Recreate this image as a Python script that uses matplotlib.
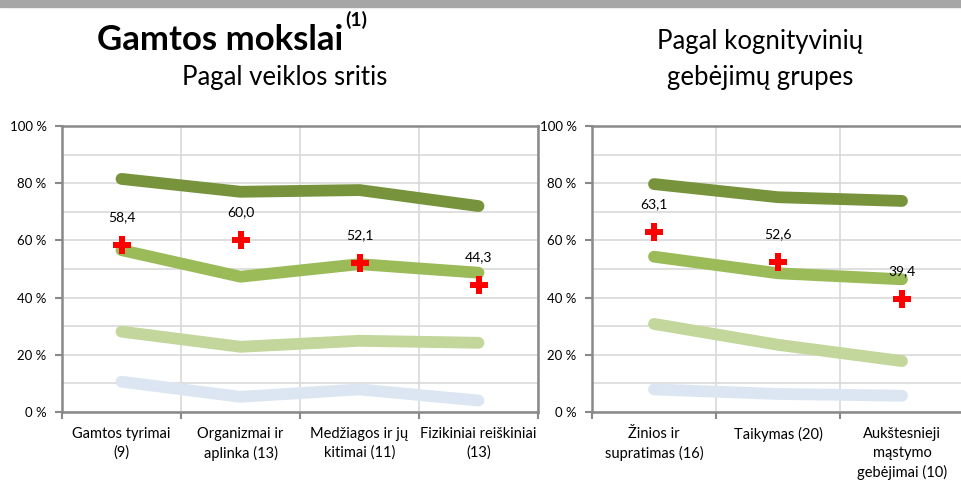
import matplotlib
matplotlib.use("Agg")
import matplotlib.pyplot as plt
from matplotlib.ticker import MultipleLocator, FixedLocator, NullFormatter, FixedFormatter
from matplotlib.patches import Ellipse, Rectangle

plt.rcParams['font.family'] = ['Lato', 'DejaVu Sans']

# left panel: by domain
domains = ["Gamtos tyrimai\n(9)", "Organizmai ir\naplinka (13)",
           "Medžiagos ir jų\nkitimai (11)", "Fizikiniai reiškiniai\n(13)"]
dom_high = [81.5, 77.0, 77.6, 72.0]
dom_mid = [56.6, 47.3, 51.7, 48.7]
dom_low = [28.1, 22.8, 24.9, 24.2]
dom_min = [10.6, 5.3, 7.9, 4.0]
dom_school = [58.4, 60.0, 52.1, 44.3]

# right panel: by cognitive group
groups = ["Žinios ir\nsupratimas (16)", "Taikymas (20)",
          "Aukštesnieji\nmąstymo\ngebėjimai (10)"]
grp_high = [79.7, 75.1, 73.8]
grp_mid = [54.3, 48.5, 46.4]
grp_low = [30.8, 23.5, 17.8]
grp_min = [7.9, 6.3, 5.7]
grp_school = [63.1, 52.6, 39.4]

line_colors = ["#77933c", "#9bbb59", "#c3d69b", "#dce6f2"]
spine_gray = "#898989"
grid_gray = "#d9d9d9"


def draw_panel(ax, labels, series, school):
    n = len(labels)
    xs = list(range(n))
    for vals, col in zip(series, line_colors):
        ax.plot(xs, vals, color=col, lw=8.5, solid_capstyle='round',
                solid_joinstyle='round', zorder=3)
    ax.plot(xs, school, ls='none', marker='P', ms=13, color='#ff0000',
            markeredgewidth=0, zorder=4)
    for x, v in zip(xs, school):
        ax.annotate(f"{v:.1f}".replace('.', ','), (x, v), xytext=(0, 20),
                    textcoords='offset points', ha='center', va='center',
                    fontsize=10, zorder=5)
    ax.set_xlim(-0.5, n - 0.5)
    ax.set_ylim(0, 100)
    ax.yaxis.set_major_locator(MultipleLocator(20))
    ax.yaxis.set_minor_locator(MultipleLocator(10))
    ax.set_yticklabels([f"{int(t)} %" for t in ax.get_yticks()])
    ax.xaxis.set_major_locator(FixedLocator([i - 0.5 for i in range(n + 1)]))
    ax.xaxis.set_major_formatter(NullFormatter())
    ax.xaxis.set_minor_locator(FixedLocator(xs))
    ax.xaxis.set_minor_formatter(FixedFormatter(labels))
    ax.tick_params(axis='x', which='major', length=5, width=1.5, color=spine_gray)
    ax.tick_params(axis='x', which='minor', length=0, pad=11, labelsize=10.5)
    ax.tick_params(axis='y', which='major', length=5, width=1.5, color=spine_gray,
                   labelsize=9.5, pad=6)
    ax.tick_params(axis='y', which='minor', length=0)
    ax.grid(True, which='both', axis='y', color=grid_gray, lw=1.2, zorder=0)
    ax.grid(True, which='major', axis='x', color=grid_gray, lw=1.2, zorder=0)
    for s in ax.spines.values():
        s.set_color(spine_gray)
        s.set_linewidth(1.8)
    ax.set_axisbelow(True)
    ax.patch.set_alpha(0)


fig = plt.figure(figsize=(9.61, 4.83), dpi=100)

ax1 = fig.add_axes([62 / 961, 1 - 412 / 483, 476 / 961, 286 / 483])
draw_panel(ax1, domains, [dom_high, dom_mid, dom_low, dom_min], dom_school)

ax2 = fig.add_axes([592 / 961, 1 - 412 / 483, 372 / 961, 286 / 483])
draw_panel(ax2, groups, [grp_high, grp_mid, grp_low, grp_min], grp_school)

# gray header strip and partial circle at the right edge
fig.patches.append(Rectangle((0, 1 - 7 / 483), 1, 7 / 483, transform=fig.transFigure,
                             color="#a6a6a6", zorder=0))
fig.patches.append(Ellipse((1.045, 1 - 72 / 483), 0.08, 0.2, transform=fig.transFigure,
                           facecolor='none', edgecolor='black', lw=2.5))

title = fig.text(97 / 961, 1 - 40 / 483, "Gamtos mokslai", ha='left',
                 va='center', fontsize=25, fontweight='bold')
fig.canvas.draw()
bb = title.get_window_extent().transformed(fig.transFigure.inverted())
fig.text(bb.x1 + 2 / 961, 1 - 20 / 483, "(1)", ha='left', va='center',
         fontsize=14, fontweight='bold')
fig.text(285 / 961, 1 - 78 / 483, "Pagal veiklos sritis", ha='center', va='center',
         fontsize=18.5)
fig.text(760 / 961, 1 - 42 / 483, "Pagal kognityvinių", ha='center', va='center',
         fontsize=18.5)
fig.text(760 / 961, 1 - 78 / 483, "gebėjimų grupes", ha='center', va='center',
         fontsize=18.5)

# category labels need a bit more line spacing
for ax in (ax1, ax2):
    for lbl in ax.get_xticklabels(minor=True):
        lbl.set_linespacing(1.4)

fig.savefig("out.png", dpi=100)
